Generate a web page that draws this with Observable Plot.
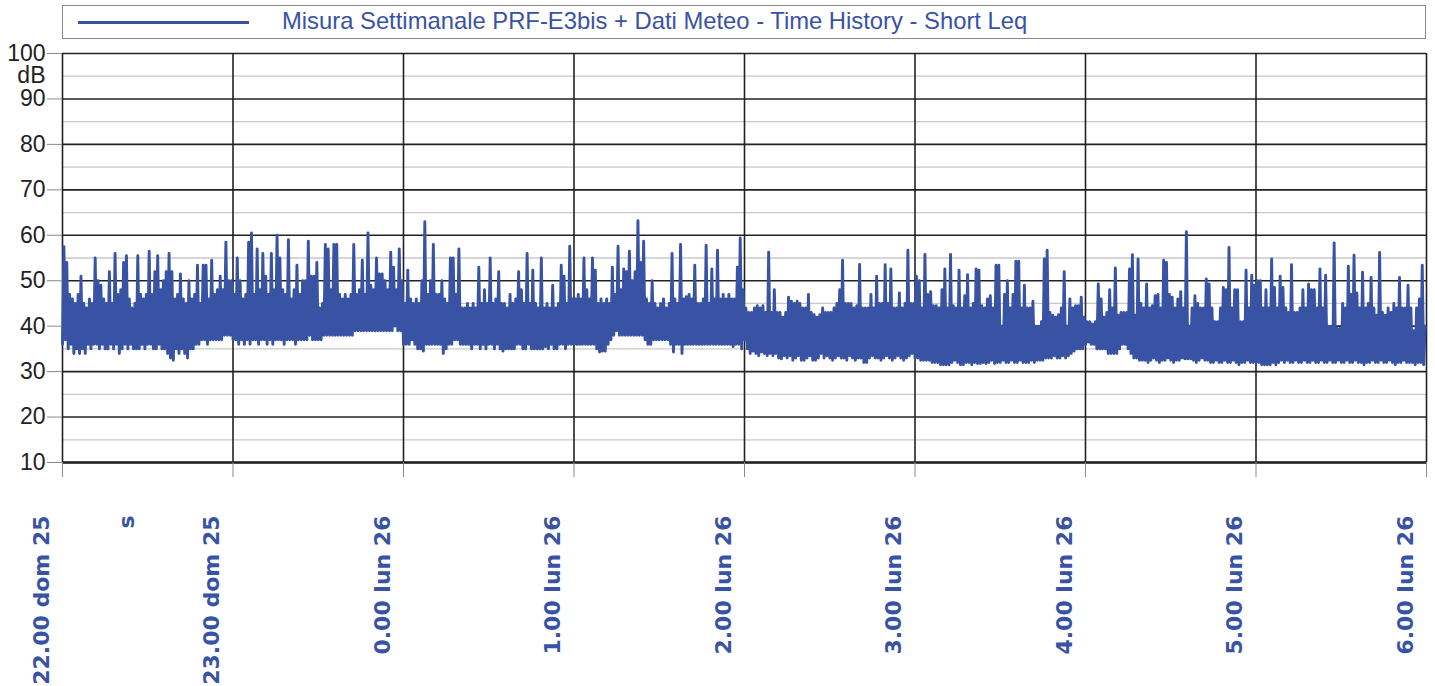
<!DOCTYPE html>
<html><head><meta charset="utf-8">
<script src="https://cdn.jsdelivr.net/npm/d3@7"></script>
<script src="https://cdn.jsdelivr.net/npm/@observablehq/plot@0.6"></script>
<style>
body{margin:0;background:#fff;width:1435px;height:686px;overflow:hidden;position:relative;font-family:"Liberation Sans",Arial,sans-serif}
#legend{position:absolute;left:62px;top:5px;width:1362px;height:32px;border:1px solid #8a8a8a;box-sizing:content-box}
#legend .swatch{position:absolute;left:15px;top:15px;width:171px;height:0;border-top:3px solid #3953a4}
#legend .label{position:absolute;left:219px;top:0;line-height:30px;font-size:23.8px;color:#3953a4;white-space:nowrap}
#chart{position:absolute;left:0;top:44px}
</style></head><body>
<div id="legend"><div class="swatch"></div><div class="label"></div></div>
<div id="chart"></div>
<script>
const seriesName = "Misura Settimanale PRF-E3bis + Dati Meteo - Time History - Short Leq";
const yUnit = "dB";
const yMajor = [10, 20, 30, 40, 50, 60, 70, 80, 90, 100];
const yMinor = [15, 25, 35, 45, 55, 65, 75, 85, 95];
const hourLabels = ["22.00 dom 25", "23.00 dom 25", "0.00 lun 26", "1.00 lun 26", "2.00 lun 26", "3.00 lun 26", "4.00 lun 26", "5.00 lun 26", "6.00 lun 26"];
const extraLabel = "s";

// Short Leq (dB), one reading every 30 s, one array per hour (low / high pairs)
const h22 = [
36,57.5, 37,54, 35,47, 36,46, 34,45, 35,47, 34,51, 35,45, 34,44, 36,46,
35,45, 36,55, 36,50, 35,49, 36,46, 35,45, 35,52, 36,45, 35,56, 36,47,
34,48, 35,54, 36,55.5, 35,46, 36,44, 35,45, 35,55.5, 35,47, 36,46, 35,47,
36,56.5, 36,47, 35,52, 35,55.5, 36,48, 35,50, 35,52, 34,56, 33,52, 32.5,46,
35,47, 34,51.5, 35,46, 34,45, 33,50, 35,46, 35,47, 36,53.4, 36,45, 37,53.4,
37,53.4, 36,46, 37,54.5, 37,47, 37,48, 37,51, 37,48, 38,58.5, 38,50, 38,50];
const h23 = [
37,47, 37,55, 36,50, 37,46, 36,47, 37,58.5, 36,60.5, 37,47, 37,57, 36,48,
37,56, 37,51, 36,47, 37,56, 36,48, 37,60, 37,55, 37,48, 36,47, 37,59,
37,46, 37,48, 36,53.4, 37,47, 37,50, 37,50, 37,58.7, 38,51, 37,51, 37,54,
37,44, 37,45, 38,58, 38,57, 38,48, 38,58, 38,58, 38,47, 38,46, 38,47,
38,46, 38,47, 38,58, 39,47, 39,48, 39,54.5, 39,47, 39,60.5, 39,49, 39,48,
39,55, 39,51.5, 39,51.5, 39,50, 39,48, 39,56.3, 39,53, 40,48, 39,57, 39,50];
const h00 = [
36,45, 36,52.3, 36,46, 37,45, 36,46, 35,45, 35,50, 34.5,63, 36,47, 36,50,
36,58, 36,47, 36,47, 36,50, 34,46, 35,45, 36,55, 36,55, 37,47, 37,57,
36,44, 36,44, 36,45, 36,44, 35,45, 36,44, 36,53, 35,45, 36,48, 35,45,
36,55, 36,45, 35,46, 36,52, 35,45, 34.5,45, 35,44, 35,47, 35,45, 35,46,
36,52, 36,48, 35,45, 35,56, 36,45, 35,52.3, 35,45, 35,44, 35,55, 35,44,
35.5,45, 35,44, 36,49, 35,44, 35,45, 36,53.4, 36,51, 35,45, 36,57.6, 36,46];
const h01 = [
36,46, 36,47, 36,46, 36,55, 36,48, 36,46, 36,55, 36,52.3, 35,45, 34.3,46,
34.5,45, 34.5,46, 36,45, 37,53, 38,47, 39,57.6, 38,48, 38,52.6, 38,52, 38,56.5,
38,50, 38,52, 38,63.2, 38,54, 38,58.7, 37,46, 36,45, 36,50, 37,45, 37,44,
37,45, 37,46, 37,44, 37,45, 36,56, 34.3,46, 36,45, 36,58, 34,46, 36,46.5,
36,47, 36,46, 36,53.4, 36,45, 36,45, 36,46, 36,57.8, 36,45, 36,52.6, 36,46,
36,56.7, 36,46, 36,47, 36,46, 36,47, 36,46, 35.5,46, 36,53, 36,59.4, 35,48];
const h02 = [
37,44, 35,43, 34,43, 34.5,44, 34,44.5, 33.5,44, 34.3,44.5, 34,43, 33.5,56.3, 34,43,
33.5,48, 34,43, 33,43, 32.8,42, 33.5,43, 33,46.4, 33.5,45.5, 32.5,45, 33,45.5, 33.5,45,
32.5,44, 32.5,44, 33,47, 33.5,43, 32.5,42.5, 32.5,42, 33,42.5, 34,44, 33,43, 33.5,43,
33,43, 32.5,44, 33,45, 33.5,48, 33,54.5, 33,45, 32.5,45, 33.5,45, 33,44, 32.5,44.5,
33,53.6, 33,44, 32,44, 32,44, 33,47, 33.5,44, 33,51, 33,45, 32.5,45, 33,53.5,
33.5,45, 33,52.6, 32.5,44, 33,44, 33.5,47.3, 33,44, 32.5,45, 33,56.7, 33.5,45, 34,45];
const h03 = [
33,51, 33,50, 32.5,44, 32.5,55.8, 32.5,47, 32.5,47.6, 32,44.5, 32,44.5, 32,44, 31.5,48,
31.5,52.6, 31.5,44, 31.5,55.8, 32,44.5, 32.5,44, 32,52.3, 31.5,44, 31.5,46.7, 32,51.3, 32,44,
31.5,45, 32,52.6, 31.8,52.3, 31.8,44.5, 32,44, 31.8,46, 32,46.7, 32.5,44, 31.8,53.4, 32,53.4,
32,40, 32.5,47, 32,50, 32,44, 32.5,47, 32,54.3, 32,54.3, 32.5,44, 32,49, 32,44,
32,44, 32.5,45.5, 32,40, 32.5,40, 32.5,41, 32.5,54.8, 33,56.7, 33,43, 33,42.4, 33.5,42,
33,42.5, 33,44, 33.5,52, 33,40, 33.5,46, 34,44, 34.5,44.5, 35,44.5, 35,46.4, 35,42];
const h04 = [
36,41, 36.5,41, 36,40.5, 36,41, 35,49.3, 35,46, 35,42, 35,43, 34,48, 34,44,
34,52.8, 34,42.4, 35,43, 36,43, 36,43, 35,52.6, 34,55.7, 33,42.4, 33,54.8, 32.5,45,
32.5,44, 32.5,49.3, 32,44, 32.5,44.5, 33,46.7, 32.5,47, 32,44, 32.5,54.5, 32.5,54, 33,47,
32.5,46.4, 32,44, 32.5,46, 32.5,47.6, 33,44, 32.8,60.8, 32.8,40, 32.8,44, 32.5,46.7, 32,45,
32.5,44, 33,44, 32.5,50.4, 32.5,49.3, 32,44, 32,41, 32.5,41, 32,44, 32,48.5, 32.5,48,
32,57.3, 32,44, 32.5,48, 32,48, 31.5,41, 32,41, 32,52.3, 32.5,44, 32,51.2, 32,49];
const h05 = [
32,50, 32,50, 31.5,44, 31.5,48, 31.5,44, 31.5,54.8, 32,48.5, 31.5,44, 32,51, 32.5,48.5,
32,44, 32.5,43, 32,53.5, 32,43, 32.5,43, 32,44, 32,48, 32.5,44, 32,49.3, 32,48,
32.5,48, 32,44, 32,52.6, 32.5,44, 32,51.2, 32,40, 32.5,40, 32,58.3, 32,39.5, 32.5,39.5,
32,45, 32,44, 32.5,53.2, 32,47, 32,55.6, 32.5,47.3, 32,44, 32,51.9, 31.5,44, 32,45,
32,50.7, 32.5,44, 32,42.4, 32,56.2, 32.5,43, 32,42.4, 32,44, 32.5,43, 32,45, 31.5,44,
32,50.7, 32,44, 32.5,44, 32,49, 32,44, 32,39, 31.5,44, 32,46, 32,53.4, 31.5,40];

const hourArrays = [h22, h23, h00, h01, h02, h03, h04, h05];
const start = new Date(2017, 5, 25, 22, 0, 0);
const end = new Date(2017, 5, 26, 6, 0, 0);
const data = [];
hourArrays.forEach((arr, k) => arr.forEach((v, i) => {
  data.push({t: new Date(+start + (k * 3600 + i * 30) * 1000), v});
}));

const hourTicks = hourLabels.map((_, i) => new Date(+start + i * 3600 * 1000));
const labelTicks = [...hourTicks, new Date(+start + 1800 * 1000)];
const labelMap = new Map(hourTicks.map((d, i) => [+d, hourLabels[i]]));
labelMap.set(+labelTicks[labelTicks.length - 1], extraLabel);

document.querySelector("#legend .label").textContent = seriesName;

const chart = Plot.plot({
  width: 1435,
  height: 642,
  marginLeft: 62,
  marginRight: 9,
  marginTop: 9,
  marginBottom: 224,
  style: {fontFamily: "Liberation Sans, Arial, sans-serif", background: "#fff", overflow: "visible"},
  x: {type: "time", domain: [start, end]},
  y: {domain: [10, 100]},
  marks: [
    Plot.ruleY(yMinor, {stroke: "#c8c8c8", strokeWidth: 1.3}),
    Plot.ruleY(yMajor, {stroke: "#222", strokeWidth: 1.6}),
    Plot.ruleX(hourTicks, {stroke: "#222", strokeWidth: 1.6}),
    Plot.line(data, {x: "t", y: "v", stroke: "#3953a4", strokeWidth: 2.9}),
    Plot.ruleY([10], {stroke: "#222", strokeWidth: 2.6}),
    Plot.axisY(yMajor, {tickSize: 15, tickPadding: 2, stroke: "#8a8a8a", fontSize: 23, fill: "#222", label: null}),
    Plot.axisX(hourTicks, {tickSize: 15, stroke: "#8a8a8a", text: null, label: null}),
    Plot.axisX(labelTicks, {tickSize: 0, tickPadding: 53, tickRotate: -90, tickFormat: d => labelMap.get(+d),
      fontSize: 22, fontWeight: "bold", fill: "#3953a4", dx: -21, label: null, fontFamily: "DejaVu Sans"}),
    Plot.text([yUnit], {frameAnchor: "top-left", dx: -17, dy: 22, lineAnchor: "middle", textAnchor: "end", fontSize: 23, fill: "#222"})
  ]
});
document.getElementById("chart").appendChild(chart);
</script>
</body></html>
